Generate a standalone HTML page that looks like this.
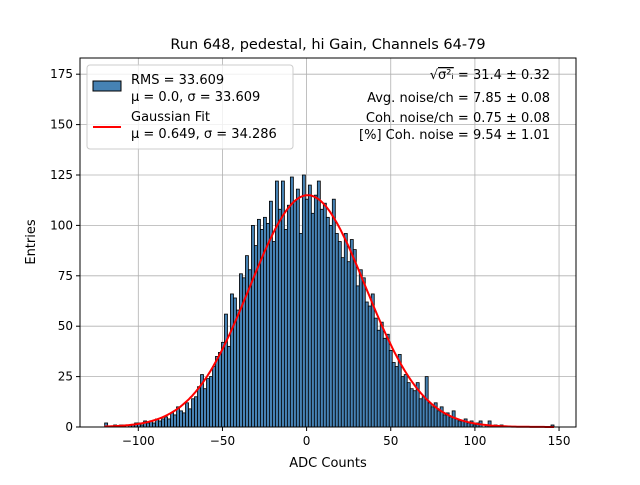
<!DOCTYPE html>
<html><head><meta charset="utf-8"><style>
body{margin:0;background:#fff;font-family:"Liberation Sans","DejaVu Sans",sans-serif}
svg text{font-family:"DejaVu Sans","Liberation Sans",sans-serif}
</style></head><body>
<svg id="chart" width="640" height="480" xmlns="http://www.w3.org/2000/svg">
<rect width="640" height="480" fill="#fff"/>
<text x="328" y="49" text-anchor="middle" font-size="14.5">Run 648, pedestal, hi Gain, Channels 64-79</text>
<g id="grid"></g><g id="bars"></g><g id="fit"></g><g id="axes"></g>
<text x="328" y="467" text-anchor="middle" font-size="13">ADC Counts</text>
<text transform="translate(35,242) rotate(-90)" text-anchor="middle" font-size="13">Entries</text>
<g>
<rect x="87" y="65" width="206" height="84" rx="3" fill="#fff" fill-opacity="0.8" stroke="#ccc"/>
<rect x="93" y="81" width="28" height="10" fill="#4682b4" stroke="#000"/>
<text x="131" y="84" font-size="13">RMS = 33.609</text>
<text x="131" y="101" font-size="13">μ = 0.0, σ = 33.609</text>
<line x1="93" y1="127" x2="121" y2="127" stroke="red" stroke-width="2"/>
<text x="131" y="121" font-size="13">Gaussian Fit</text>
<text x="131" y="138" font-size="13">μ = 0.649, σ = 34.286</text>
</g>
<g font-size="13" text-anchor="end">
<text x="550" y="79">√<tspan text-decoration="overline">σ²ᵢ</tspan> = 31.4 ± 0.32</text>
<text x="550" y="102">Avg. noise/ch = 7.85 ± 0.08</text>
<text x="550" y="122">Coh. noise/ch = 0.75 ± 0.08</text>
<text x="550" y="139">[%] Coh. noise = 9.54 ± 1.01</text>
</g>
</svg>
<script>
const binStart = -120;
const binWidth = 1.78;
const counts = [2,0,0,1,0,1,1,0,1,1,
2,2,1,3,2,3,2,4,3,4,
5,4,7,6,10,8,7,12,9,14,
15,20,26,19,24,25,30,35,37,42,
56,40,66,64,58,76,74,85,78,100,
90,103,98,104,101,112,92,122,108,122,
98,110,124,112,118,96,125,113,120,106,
115,122,108,111,104,100,113,96,92,84,
96,82,93,88,70,78,74,62,60,66,
54,48,52,44,46,38,32,30,36,25,
26,22,19,18,22,14,15,25,12,10,
12,8,10,6,7,5,8,4,3,3,
4,2,3,1,2,3,0,1,3,0,
1,0,1,0,0,0,0,0,0,0,
0,0,0,0,0,0,0,0,0,1];
const fitMu = 0.649, fitSigma = 34.286, fitAmp = 115;
const xTicks = [-100,-50,0,50,100,150];
const yTicks = [0,25,50,75,100,125,150,175];
const NS='http://www.w3.org/2000/svg';
const L=80,R=576,T=58,B=427;
const xs=v=>306.6+v*1.683;
const ys=v=>B-v*(50.4/25);
function mk(tag,attrs,parent){const e=document.createElementNS(NS,tag);for(const k in attrs)e.setAttribute(k,attrs[k]);parent.appendChild(e);return e;}
const grid=document.getElementById('grid'),bars=document.getElementById('bars'),fit=document.getElementById('fit'),axes=document.getElementById('axes');
xTicks.forEach(t=>{const g=mk('line',{x1:xs(t),x2:xs(t),y1:T,y2:B,stroke:'#b0b0b0','stroke-width':0.8},grid);


mk('line',{x1:xs(t),x2:xs(t),y1:B,y2:B+4,stroke:'#000'},axes);
const tx=mk('text',{x:xs(t),y:B+18,'text-anchor':'middle','font-size':12},axes);tx.textContent=t<0?'\u2212'+(-t):t;

});
yTicks.forEach(t=>{const g=mk('line',{x1:L,x2:R,y1:ys(t),y2:ys(t),stroke:'#b0b0b0','stroke-width':0.8},grid);


mk('line',{x1:L-4,x2:L,y1:ys(t),y2:ys(t),stroke:'#000'},axes);
const tx=mk('text',{x:L-7,y:ys(t)+4,'text-anchor':'end','font-size':12},axes);tx.textContent=t;

});
counts.forEach((c,i)=>{if(c<=0)return;const x0=xs(binStart+i*binWidth),x1=xs(binStart+(i+1)*binWidth);
const r=mk('rect',{x:x0,y:ys(c),width:x1-x0,height:B-ys(c),fill:'#4682b4',stroke:'#000','stroke-width':0.8},bars);

});
let d='';for(let v=-120;v<=147;v+=1){const y=fitAmp*Math.exp(-((v-fitMu)**2)/(2*fitSigma*fitSigma));d+=(d?'L':'M')+xs(v).toFixed(1)+','+ys(y).toFixed(1);}
const p=mk('path',{d:d,fill:'none',stroke:'red','stroke-width':2},fit);


const fr=mk('rect',{x:L,y:T,width:R-L,height:B-T,fill:'none',stroke:'#000','stroke-width':1},axes);


</script>
</body></html>
